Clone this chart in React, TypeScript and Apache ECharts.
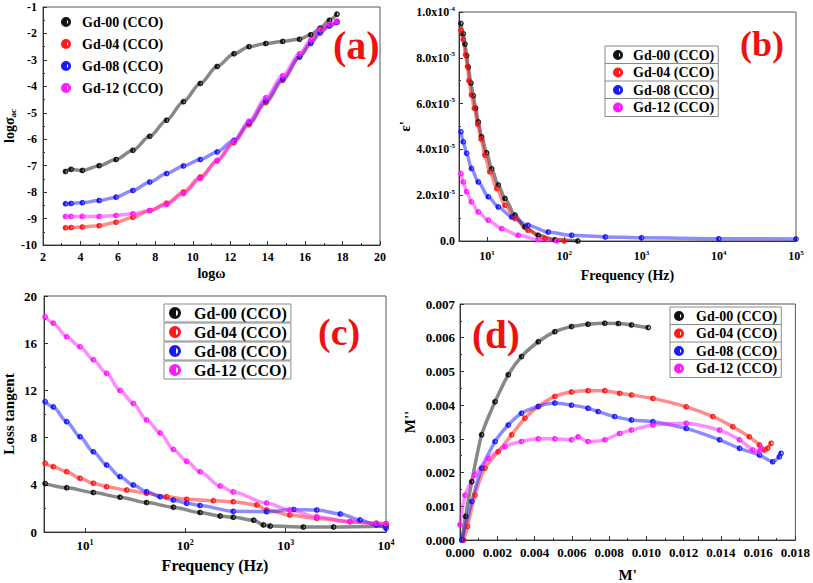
import React, { useEffect, useRef } from 'react';
import * as echarts from 'echarts';

const NAMES = ['Gd-00 (CCO)', 'Gd-04 (CCO)', 'Gd-08 (CCO)', 'Gd-12 (CCO)'];
const COLORS = ['#111111', '#ff1a1a', '#1a1aff', '#ff1aff'];

// (a) log sigma_ac vs log omega
const logOmega = [3.2, 3.5, 4.1, 5.0, 5.9, 6.8, 7.7, 8.6, 9.5, 10.4, 11.3, 12.2, 13.0, 13.9, 14.8, 15.7, 16.3, 16.8, 17.3, 17.7];
const sigma00 = [-7.22, -7.14, -7.18, -7.0, -6.77, -6.42, -5.89, -5.28, -4.58, -3.89, -3.25, -2.77, -2.5, -2.38, -2.3, -2.22, -2.05, -1.8, -1.5, -1.27];
const sigma04 = [-9.35, -9.34, -9.32, -9.27, -9.14, -8.95, -8.7, -8.42, -8.0, -7.43, -6.82, -6.13, -5.45, -4.62, -3.78, -2.89, -2.35, -1.9, -1.68, -1.54];
const sigma08 = [-8.44, -8.43, -8.4, -8.32, -8.19, -7.94, -7.62, -7.3, -7.01, -6.77, -6.48, -6.04, -5.38, -4.55, -3.72, -2.89, -2.38, -1.98, -1.72, -1.58];
const sigma12 = [-8.92, -8.92, -8.92, -8.92, -8.88, -8.82, -8.7, -8.47, -8.06, -7.49, -6.8, -6.08, -5.32, -4.43, -3.6, -2.77, -2.25, -1.85, -1.65, -1.54];

// (b) epsilon' vs frequency [Hz, value]
const eps00 = [[4.6, 9.5e-5], [4.93, 9.05e-5], [5.19, 8.6e-5], [5.46, 8.1e-5], [5.73, 7.6e-5], [6.2, 6.9e-5], [6.65, 6.35e-5], [7.14, 5.8e-5], [7.72, 5.2e-5], [8.53, 4.55e-5], [9.9, 3.85e-5], [11.5, 3.15e-5], [14, 2.45e-5], [17.1, 1.86e-5], [23, 1.13e-5], [31, 0.61e-5], [46, 0.25e-5], [76, 0.05e-5], [150, 0]];
const eps04 = [[4.6, 9.2e-5], [4.93, 8.8e-5], [5.3, 8.13e-5], [5.6, 7.62e-5], [5.85, 7.0e-5], [6.3, 6.38e-5], [6.86, 5.8e-5], [7.6, 5.1e-5], [8.4, 4.45e-5], [9.4, 3.75e-5], [10.9, 3.02e-5], [13.4, 2.29e-5], [17.1, 1.56e-5], [23, 0.98e-5], [34, 0.47e-5], [56, 0.12e-5], [100, 0]];
const eps08 = [[4.6, 4.77e-5], [4.93, 4.33e-5], [5.46, 3.83e-5], [6.3, 3.17e-5], [7.72, 2.58e-5], [10.4, 1.93e-5], [14, 1.49e-5], [20.9, 1.05e-5], [34, 0.69e-5], [62, 0.39e-5], [125, 0.25e-5], [340, 0.18e-5], [1000, 0.14e-5], [10000, 0.1e-5], [100000, 0.09e-5]];
const eps12 = [[4.6, 2.95e-5], [4.93, 2.58e-5], [5.46, 2.15e-5], [6.3, 1.71e-5], [7.72, 1.27e-5], [10.4, 0.91e-5], [15.5, 0.54e-5], [25.4, 0.25e-5], [46, 0.06e-5], [80, 0]];

// (c) loss tangent vs frequency
const tan00 = [[4.0, 4.1], [6.56, 3.75], [12.1, 3.35], [22.3, 2.95], [41, 2.5], [76, 2.1], [140, 1.65], [222, 1.35], [300, 1.25], [480, 1.0], [600, 0.6], [700, 0.5], [1500, 0.42], [3000, 0.42], [10000, 0.5]];
const tan04 = [[4.0, 5.82], [4.83, 5.53], [6.56, 5.11], [8.9, 4.55], [12.1, 4.13], [16.4, 3.84], [26, 3.56], [41, 3.28], [65, 2.99], [103, 2.77], [190, 2.65], [300, 2.57], [515, 2.29], [645, 1.86], [1100, 1.44], [2040, 1.16], [4370, 0.87], [8000, 0.74], [10000, 0.7]];
const tan08 = [[4.0, 11.04], [4.83, 10.6], [6.56, 9.35], [8.9, 8.08], [12.1, 6.8], [16.4, 5.68], [22.3, 4.69], [30.3, 3.98], [41, 3.42], [56, 2.99], [76, 2.71], [103, 2.43], [140, 2.25], [300, 1.75], [645, 1.72], [1200, 1.9], [2040, 1.86], [3500, 1.53], [5500, 1.02], [8000, 0.59], [10000, 0.31]];
const tan12 = [[4.0, 18.25], [4.83, 17.7], [6.56, 16.55], [8.9, 15.7], [12.1, 14.6], [16.4, 13.45], [22.3, 12.0], [30.3, 10.9], [41, 9.5], [56, 8.4], [76, 7.0], [103, 6.0], [140, 5.1], [222, 3.9], [300, 3.4], [645, 2.45], [1100, 1.86], [2040, 1.3], [4370, 0.87], [8000, 0.74], [10000, 0.7]];

// (d) M'' vs M'
const mod00 = [[0.0001, 0], [0.0003, 0.0007], [0.00063, 0.00173], [0.00116, 0.00312], [0.00188, 0.0041], [0.00259, 0.0049], [0.0033, 0.00544], [0.0042, 0.00588], [0.00509, 0.00618], [0.00598, 0.00633], [0.00687, 0.0064], [0.00777, 0.00643], [0.0085, 0.00642], [0.0092, 0.00638], [0.0101, 0.0063]];
const mod04 = [[0.0002, 0], [0.0004, 0.0004], [0.0008, 0.00133], [0.00134, 0.00213], [0.00205, 0.00262], [0.00277, 0.00312], [0.00348, 0.00361], [0.0042, 0.00396], [0.00509, 0.00426], [0.00598, 0.00439], [0.00687, 0.00443], [0.00777, 0.00443], [0.00857, 0.00435], [0.0092, 0.0043], [0.01035, 0.0042], [0.01214, 0.00395], [0.01357, 0.00366], [0.01464, 0.00336], [0.01553, 0.00306], [0.01607, 0.00282], [0.01634, 0.00267], [0.01651, 0.00272], [0.0167, 0.00287]];
const mod08 = [[0.0001, 0], [0.00063, 0.00114], [0.00116, 0.00213], [0.00188, 0.00292], [0.00259, 0.00341], [0.0033, 0.00376], [0.0042, 0.00396], [0.00509, 0.00406], [0.00598, 0.004], [0.00687, 0.00391], [0.00741, 0.00381], [0.0083, 0.00366], [0.0092, 0.00356], [0.01035, 0.00351], [0.01214, 0.00331], [0.01393, 0.00297], [0.015, 0.00272], [0.01607, 0.00252], [0.01678, 0.00232], [0.01714, 0.00247], [0.01723, 0.00257]];
const mod12 = [[0.0, 0.00045], [0.00027, 0.00133], [0.0008, 0.00193], [0.00152, 0.00242], [0.00241, 0.00277], [0.0033, 0.00292], [0.0042, 0.003], [0.00509, 0.003], [0.00598, 0.00297], [0.00634, 0.00306], [0.00687, 0.00292], [0.00777, 0.00297], [0.00857, 0.00316], [0.0092, 0.00326], [0.01035, 0.00341], [0.01214, 0.00346], [0.01393, 0.00326], [0.015, 0.00297], [0.01571, 0.00267], [0.01607, 0.00262], [0.01616, 0.00272]];

const FF = '"Liberation Serif", "Times New Roman", serif';
const HALF = 'path://M0,-10A10,10,0,0,1,0,10A10,10,0,0,1,0,-10ZM0,-8L0,8A8,8,0,0,0,0,-8Z';

function mkLine(name: string, color: string, data: any[], idx: number, extra: any = {}) {
  return {
    type: 'line', name, xAxisIndex: idx, yAxisIndex: idx, data,
    symbol: HALF, symbolSize: 5, showAllSymbol: true,
    itemStyle: { color, borderColor: color, borderWidth: 0.6 },
    lineStyle: { color, width: 3.5, opacity: 0.5 },
    smooth: 0.3, smoothMonotone: 'x',
    emphasis: { disabled: true },
    ...extra,
  };
}

const lab = (size: number, margin: number, extra: any = {}) => ({ fontFamily: FF, fontWeight: 'bold', fontSize: size, color: '#000', margin, ...extra });
const nameStyle = (size: number, extra: any = {}) => ({ fontFamily: FF, fontWeight: 'bold', fontSize: size, color: '#000', ...extra });
const axisCommon = {
  axisLine: { show: true, onZero: false, lineStyle: { color: '#333', width: 1 } },
  axisTick: { show: true, inside: true, length: 4, lineStyle: { color: '#333' } },
  splitLine: { show: false },
};
const minor = { show: true, splitNumber: 2, length: 2, lineStyle: { color: '#333' } };

const logFmt = (v: number) => {
  const e = Math.log10(v);
  if (Math.abs(e - Math.round(e)) > 1e-6) return '';
  return `{b|10}{s|${Math.round(e)}}`;
};
const sciFmt = (v: number) => {
  if (Math.abs(v) < 1e-12) return '{b|0.0}';
  const e = Math.floor(Math.log10(v) + 1e-9);
  const m = v / Math.pow(10, e);
  return `{b|${m.toFixed(1)}x10}{s|${e}}`;
};
const richSup = (size: number) => ({
  b: { fontFamily: FF, fontWeight: 'bold', fontSize: size, color: '#000' },
  s: { fontFamily: FF, fontWeight: 'bold', fontSize: Math.round(size * 0.62), color: '#000', padding: [0, 0, 7, 0] },
});

function boxedLegends(left: number, top0: number, step: number, fontSize: number, itemWidth: number, padding: number[]) {
  return NAMES.map((n, i) => ({
    show: true, data: [n], left, top: top0 + i * step, orient: 'vertical',
    icon: HALF, itemWidth, itemHeight: Math.round(fontSize * 0.6), selectedMode: false,
    padding, borderColor: '#8a8a8a', borderWidth: 1, backgroundColor: '#fff',
    textStyle: { fontFamily: FF, fontWeight: 'bold', fontSize, lineHeight: fontSize, color: '#000' },
  }));
}

export default function App() {
  const ref = useRef<HTMLDivElement>(null);
  useEffect(() => {
    if (!ref.current) return;
    const chart = echarts.init(ref.current, undefined, { renderer: 'svg' });
    const series: any[] = [];
    const aSets = [sigma00, sigma04, sigma08, sigma12];
    const bSets = [eps00, eps04, eps08, eps12];
    const cSets = [tan00, tan04, tan08, tan12];
    const dSets = [mod00, mod04, mod08, mod12];
    NAMES.forEach((n, i) => series.push(mkLine(n, COLORS[i], logOmega.map((x, k) => [x, aSets[i][k]]), 0)));
    NAMES.forEach((n, i) => series.push(mkLine(n, COLORS[i], bSets[i], 1)));
    NAMES.forEach((n, i) => series.push(mkLine(n, COLORS[i], cSets[i], 2)));
    NAMES.forEach((n, i) => series.push(mkLine(n, COLORS[i], dSets[i], 3, { smooth: 0.2, smoothMonotone: undefined })));

    const option: any = {
      animation: false,
      backgroundColor: '#fff',
      grid: [
        { left: 43, top: 7, width: 337, height: 238, show: true, borderColor: '#555', borderWidth: 1 },
        { left: 459, top: 12, width: 337, height: 229, show: true, borderColor: '#555', borderWidth: 1 },
        { left: 44, top: 296, width: 342, height: 236, show: true, borderColor: '#555', borderWidth: 1 },
        { left: 460, top: 304, width: 336, height: 236, show: true, borderColor: '#555', borderWidth: 1 },
      ],
      xAxis: [
        { gridIndex: 0, type: 'value', min: 2, max: 20, interval: 2, ...axisCommon, minorTick: minor,
          axisLabel: lab(12, 6), name: 'logω', nameLocation: 'middle', nameGap: 21, nameTextStyle: nameStyle(14) },
        { gridIndex: 1, type: 'log', logBase: 10, min: 4.35, max: 100000, ...axisCommon,
          axisLabel: lab(12, 8, { formatter: logFmt, rich: richSup(12) }),
          name: 'Frequency (Hz)', nameLocation: 'middle', nameGap: 27, nameTextStyle: nameStyle(14) },
        { gridIndex: 2, type: 'log', logBase: 10, min: 3.9, max: 10000, ...axisCommon,
          axisLabel: lab(13, 6, { formatter: logFmt, rich: richSup(13) }),
          name: 'Frequency (Hz)', nameLocation: 'middle', nameGap: 25, nameTextStyle: nameStyle(16) },
        { gridIndex: 3, type: 'value', min: 0, max: 0.018, interval: 0.002, ...axisCommon, minorTick: minor,
          axisLabel: lab(13, 6, { formatter: (v: number) => v.toFixed(3) }),
          name: "M'", nameLocation: 'middle', nameGap: 27, nameTextStyle: nameStyle(15) },
      ],
      yAxis: [
        { gridIndex: 0, type: 'value', min: -10, max: -1, interval: 1, ...axisCommon, minorTick: minor,
          axisLabel: lab(12, 6), name: 'logσ{sub|ac}', nameLocation: 'middle', nameGap: 20,
          nameTextStyle: nameStyle(14, { rich: { sub: { fontFamily: FF, fontWeight: 'bold', fontSize: 9, color: '#000', padding: [6, 0, 0, 0] } } }) },
        { gridIndex: 1, type: 'value', min: 0, max: 1e-4, interval: 2e-5, ...axisCommon, minorTick: minor,
          axisLabel: lab(12, 4, { formatter: sciFmt, rich: richSup(12) }),
          name: "ε'", nameLocation: 'middle', nameGap: 40, nameTextStyle: nameStyle(15) },
        { gridIndex: 2, type: 'value', min: 0, max: 20, interval: 4, ...axisCommon, minorTick: minor,
          axisLabel: lab(13, 7), name: 'Loss tangent', nameLocation: 'middle', nameGap: 28, nameTextStyle: nameStyle(15) },
        { gridIndex: 3, type: 'value', min: 0, max: 0.007, interval: 0.001, ...axisCommon, minorTick: minor,
          axisLabel: lab(13, 5, { formatter: (v: number) => v.toFixed(3) }),
          name: "M''", nameLocation: 'middle', nameGap: 43, nameTextStyle: nameStyle(15) },
      ],
      legend: [
        { show: true, data: NAMES, left: 61, top: 15, orient: 'vertical', itemGap: 8, icon: HALF,
          itemWidth: 22, itemHeight: 8, selectedMode: false, padding: 0,
          textStyle: { fontFamily: FF, fontWeight: 'bold', fontSize: 14, lineHeight: 14, color: '#000' } },
        ...boxedLegends(605, 46, 17.5, 14, 20, [2, 4, 2, 8]),
        ...boxedLegends(164, 304, 19, 16, 28, [1, 4, 1, 5]),
        ...boxedLegends(670, 307, 17.5, 14, 24, [2, 4, 2, 4]),
      ],
      graphic: [
        { type: 'text', x: 333, y: 45, style: { text: '(a)', fill: '#ee1111', font: `bold 40px ${FF}`, verticalAlign: 'middle', align: 'left' } },
        { type: 'text', x: 740, y: 44, style: { text: '(b)', fill: '#ee1111', font: `bold 36px ${FF}`, verticalAlign: 'middle', align: 'left' } },
        { type: 'text', x: 318, y: 332, style: { text: '(c)', fill: '#ee1111', font: `bold 38px ${FF}`, verticalAlign: 'middle', align: 'left' } },
        { type: 'text', x: 472, y: 334, style: { text: '(d)', fill: '#ee1111', font: `bold 39px ${FF}`, verticalAlign: 'middle', align: 'left' } },
      ],
      series,
    };
    chart.setOption(option);
    return () => chart.dispose();
  }, []);
  return <div ref={ref} style={{ position: 'fixed', left: 0, top: 0, width: 813, height: 583, background: '#fff' }} />;
}
